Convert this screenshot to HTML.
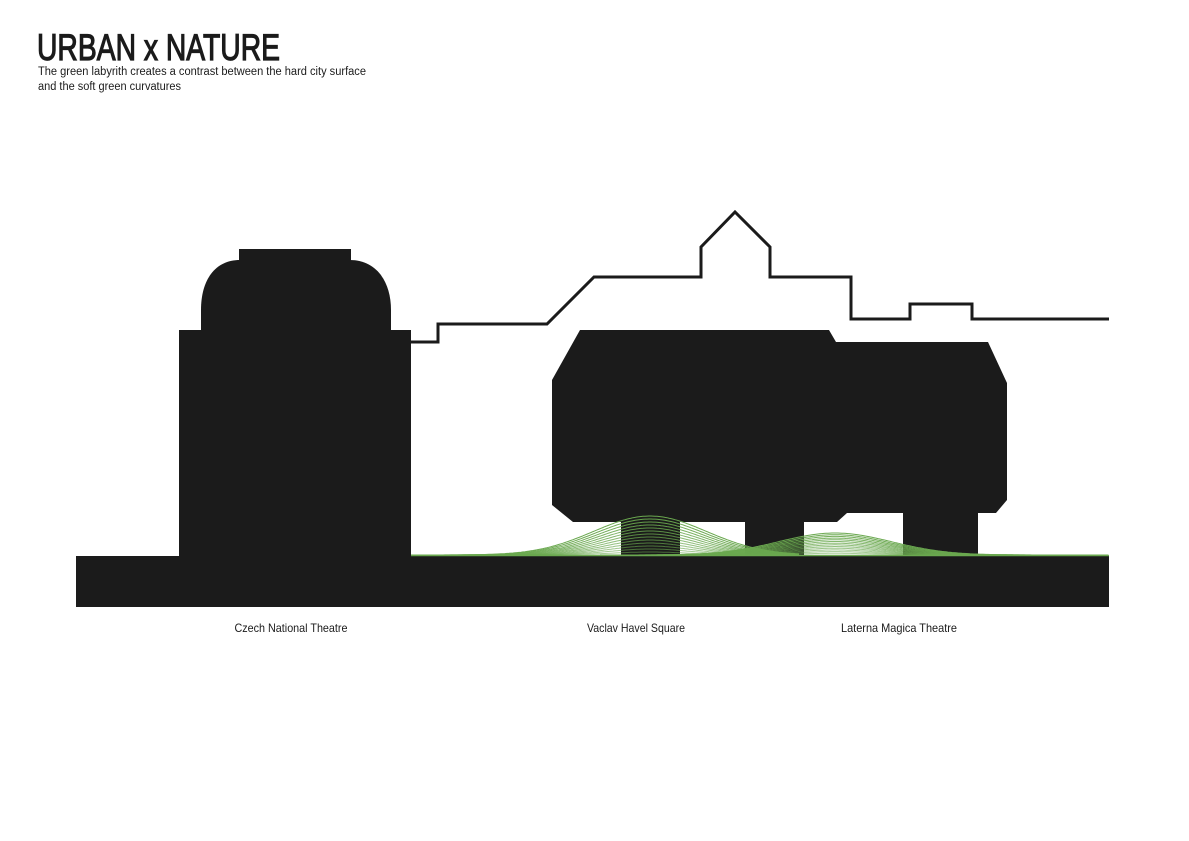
<!DOCTYPE html>
<html><head><meta charset="utf-8"><style>
html,body{margin:0;padding:0;background:#fff;}
svg{display:block;}
text{font-family:"Liberation Sans",sans-serif;fill:#1b1b1b;}
</style></head><body>
<svg id="s" width="1189" height="841" viewBox="0 0 1189 841" xmlns="http://www.w3.org/2000/svg">
<text x="37" y="60" font-size="37" textLength="243" lengthAdjust="spacingAndGlyphs" stroke="#1b1b1b" stroke-width="1.2">URBAN x NATURE</text>
<text x="38" y="75" font-size="11.5" textLength="328" lengthAdjust="spacingAndGlyphs">The green labyrith creates  a contrast between the hard city surface</text>
<text x="38" y="90" font-size="11.5" textLength="143" lengthAdjust="spacingAndGlyphs">and the soft green curvatures</text>

<polyline points="411,342 438,342 438,324 547,324 594,277 701,277 701,247 735,212 770,247 770,277 851,277 851,319 910,319 910,304 972,304 972,319 1109,319" fill="none" stroke="#1b1b1b" stroke-width="3"/>

<g fill="#1b1b1b">
<rect x="76" y="556" width="1033" height="51"/>
<rect x="179" y="330" width="232" height="227"/>
<rect x="239" y="249" width="112" height="12"/>
<path d="M201,331 L201,310 C201,280 215,260 240,260 L350,260 C375,260 391,280 391,310 L391,331 Z"/>
<path d="M580,330 L829,330 L836,342 L988,342 L1007,383 L1007,500 L996,513 L978,513 L978,557 L903,557 L903,513 L847,513 L837,522 L804,522 L804,557 L745,557 L745,522 L680,522 L680,557 L621,557 L621,522 L573,522 L552,505 L552,380 Z"/>
</g>
<g id="g" fill="none" stroke="#6aa84f" stroke-width="1"></g>

<text x="291" y="632" font-size="12" text-anchor="middle" textLength="113" lengthAdjust="spacingAndGlyphs">Czech National Theatre</text>
<text x="636" y="632" font-size="12" text-anchor="middle" textLength="98" lengthAdjust="spacingAndGlyphs">Vaclav Havel Square</text>
<text x="899" y="632" font-size="12" text-anchor="middle" textLength="116" lengthAdjust="spacingAndGlyphs">Laterna Magica Theatre</text>
</svg>
<script>
var g=document.getElementById('g'),ns='http://www.w3.org/2000/svg';
function bump(c,s,A,x0,x1){
 for(var k=1;k<=13;k++){
  var t=k/13,d='';
  for(var x=x0;x<=x1;x+=2){
   var e=Math.exp(-Math.pow((x-c)/(s*(0.8+0.4*t)),2)/2);
   var y=555-A*t*Math.pow(e,0.8);
   d+=(x==x0?'M':'L')+x+','+y.toFixed(1);
  }
  var p=document.createElementNS(ns,'path');p.setAttribute('d',d);
  p.setAttribute('stroke-opacity',(0.55+t*0.45).toFixed(2));
  g.appendChild(p);
 }
}
bump(650,42,39,411,800);
bump(835,42,22,600,1109);
var l=document.createElementNS(ns,'line');
l.setAttribute('x1',411);l.setAttribute('x2',1109);l.setAttribute('y1',555.5);l.setAttribute('y2',555.5);
l.setAttribute('stroke','#6aa84f');l.setAttribute('stroke-width','1.5');g.appendChild(l);
</script>
</body></html>
